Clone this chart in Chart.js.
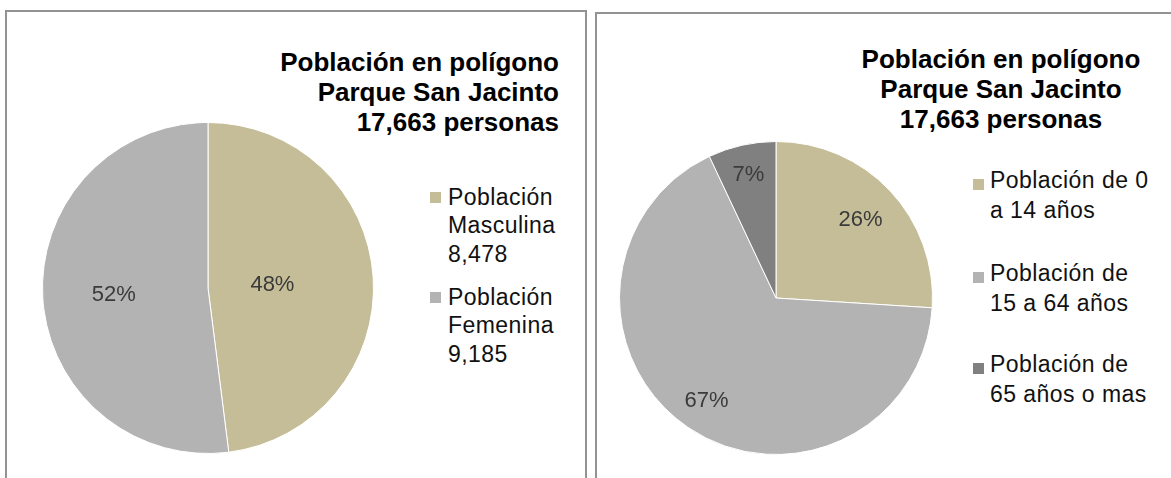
<!DOCTYPE html>
<html>
<head>
<meta charset="utf-8">
<script src="https://cdn.jsdelivr.net/npm/chart.js@4.4.1/dist/chart.umd.min.js"></script>
<style>
  html, body { margin: 0; padding: 0; background: #ffffff; }
  body { width: 1171px; height: 478px; overflow: hidden; position: relative; font-family: "Liberation Sans", Arial, sans-serif; }
  .panel { position: absolute; border: 2px solid #939393; background: #ffffff; box-sizing: border-box; }
  .title { position: absolute; font: bold 26px "Liberation Sans", Arial, sans-serif; line-height: 30px; color: #000000; white-space: nowrap; }
  .legend-item { position: absolute; font: 23px "Liberation Sans", Arial, sans-serif; letter-spacing: 0.45px; color: #111111; white-space: nowrap; }
  .swatch { position: absolute; width: 11px; height: 11px; }
  .pie { position: absolute; }
</style>
</head>
<body>
<div class="panel" style="left:5px; top:10px; width:582px; height:500px;"></div>
<div class="panel" style="left:595px; top:12px; width:600px; height:500px;"></div>

<div id="titleL" class="title" style="right:612px; top:47px; text-align:right;"></div>
<div id="titleR" class="title" style="left:801px; width:400px; top:44px; text-align:center;"></div>

<div class="pie" style="left:42px; top:122px; width:332px; height:332px;"><canvas id="pieL" width="332" height="332"></canvas></div>
<div class="pie" style="left:619px; top:141px; width:314px; height:314px;"><canvas id="pieR" width="314" height="314"></canvas></div>

<div id="legendL"></div>
<div id="legendR"></div>

<script>
// ---- Data ----
const titleLines = ["Población en polígono", "Parque San Jacinto", "17,663 personas"];

const sexCategories = ["Población Masculina", "Población Femenina"];
const sexLegendLines = [["Población", "Masculina"], ["Población", "Femenina"]];
const sexValues = [8478, 9185];
const sexColors = ["#c4bd97", "#b3b3b3"];

const ageCategories = ["Población de 0 a 14 años", "Población de 15 a 64 años", "Población de 65 años o mas"];
const ageLegendLines = [["Población de 0", "a 14 años"], ["Población de", "15 a 64 años"], ["Población de", "65 años o mas"]];
const ageValues = [26, 67, 7];
const ageColors = ["#c4bd97", "#b3b3b3", "#808080"];

// ---- Titles ----
document.getElementById('titleL').innerHTML = titleLines.join('<br>');
document.getElementById('titleR').innerHTML = titleLines.join('<br>');

// ---- Legends (HTML, built from the arrays) ----
function buildLegend(containerId, lines, colors, layout) {
  const c = document.getElementById(containerId);
  lines.forEach((ls, i) => {
    const baseline = layout.baselines[i];
    const item = document.createElement('div');
    item.className = 'legend-item';
    item.style.left = layout.textX + 'px';
    item.style.top = (baseline - layout.baseOffset) + 'px';
    item.style.lineHeight = layout.lineHeight + 'px';
    item.innerHTML = ls.join('<br>');
    c.appendChild(item);
    const sw = document.createElement('div');
    sw.className = 'swatch';
    sw.style.left = layout.swatchX + 'px';
    sw.style.top = (baseline - layout.swatchUp) + 'px';
    sw.style.background = colors[i];
    c.appendChild(sw);
  });
}
const fmt = v => v.toLocaleString('en-US');
buildLegend('legendL', sexLegendLines.map((l, i) => l.concat([fmt(sexValues[i])])), sexColors,
  { textX: 448, swatchX: 430, swatchUp: 13, lineHeight: 28.5, baseOffset: 22.2, baselines: [205, 305] });
buildLegend('legendR', ageLegendLines, ageColors,
  { textX: 990, swatchX: 973, swatchUp: 10, lineHeight: 29.5, baseOffset: 22.7, baselines: [189, 282, 373] });

// ---- Percentage label plugin ----
const sliceLabels = {
  id: 'sliceLabels',
  afterDatasetsDraw(chart, args, opts) {
    const ctx = chart.ctx;
    const ds = chart.data.datasets[0];
    const total = ds.data.reduce((a, b) => a + b, 0);
    const meta = chart.getDatasetMeta(0);
    ctx.save();
    ctx.font = opts.font;
    ctx.fillStyle = opts.color;
    ctx.textAlign = 'center';
    ctx.textBaseline = 'middle';
    meta.data.forEach((arc, i) => {
      const p = arc.getProps(['x', 'y', 'startAngle', 'endAngle', 'outerRadius'], true);
      const mid = (p.startAngle + p.endAngle) / 2;
      const r = p.outerRadius * opts.fractions[i];
      const txt = Math.round(ds.data[i] / total * 100) + '%';
      ctx.fillText(txt, p.x + Math.cos(mid) * r, p.y + Math.sin(mid) * r + 1);
    });
    ctx.restore();
  }
};

function makePie(id, labels, values, colors, fractions) {
  return new Chart(document.getElementById(id), {
    type: 'pie',
    data: {
      labels: labels,
      datasets: [{ data: values, backgroundColor: colors, borderColor: '#ffffff', borderWidth: 1 }]
    },
    options: {
      responsive: false,
      animation: false,
      devicePixelRatio: 1,
      layout: { padding: 0 },
      plugins: {
        legend: { display: false },
        title: { display: false },
        tooltip: { enabled: false },
        sliceLabels: { font: '22px "Liberation Sans", Arial, sans-serif', color: '#3a3a3a', fractions: fractions }
      }
    },
    plugins: [sliceLabels]
  });
}

makePie('pieL', sexCategories, sexValues, sexColors, [0.39, 0.57]);
makePie('pieR', ageCategories, ageValues, ageColors, [0.74, 0.79, 0.81]);
</script>
</body>
</html>
